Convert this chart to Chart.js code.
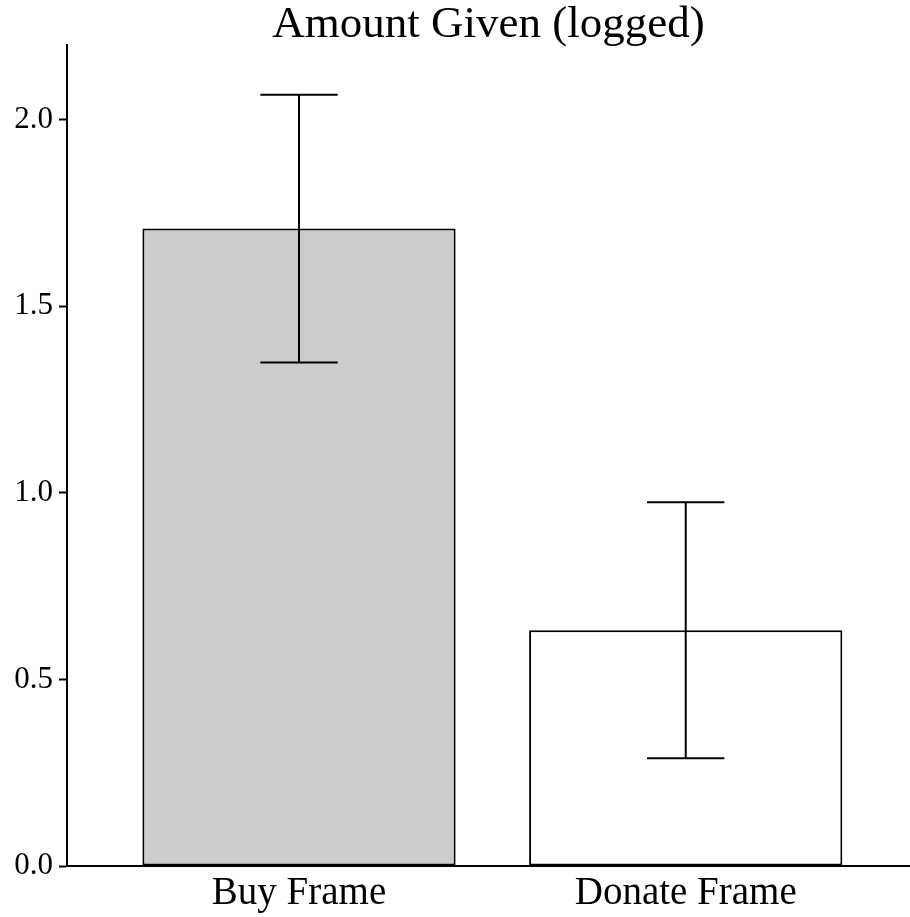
<!DOCTYPE html>
<html>
<head>
<meta charset="utf-8">
<script src="https://cdn.jsdelivr.net/npm/chart.js@4.4.1/dist/chart.umd.min.js"></script>
<style>
  html, body { margin: 0; padding: 0; background: #fff; }
  #wrap { width: 910px; height: 917px; }
</style>
</head>
<body>
<div id="wrap"><canvas id="myChart"></canvas></div>
<script>
// values
var categories = ['Buy Frame', 'Donate Frame'];
var means = [1.708, 0.632];
var errLow = [1.349, 0.289];
var errHigh = [2.067, 0.975];
var barColors = ['#cccccc', '#ffffff'];
var yTicks = [0, 0.5, 1.0, 1.5, 2.0];

var serif = '"Liberation Serif", "Times New Roman", serif';

var errorBars = {
    id: 'errorBars',
    afterDatasetsDraw: function(chart) {
        var ctx = chart.ctx;
        var xs = chart.scales.x, ys = chart.scales.y;
        ctx.save();
        ctx.strokeStyle = '#000';
        ctx.lineWidth = 2;
        for (var i = 0; i < means.length; i++) {
            var cx = xs.getPixelForValue(i + 1);
            var l = xs.getPixelForValue(i + 1 - 0.1);
            var r = xs.getPixelForValue(i + 1 + 0.1);
            var top = ys.getPixelForValue(errHigh[i]);
            var bot = ys.getPixelForValue(errLow[i]);
            ctx.beginPath();
            ctx.moveTo(cx, top); ctx.lineTo(cx, bot);
            ctx.moveTo(l, top); ctx.lineTo(r, top);
            ctx.moveTo(l, bot); ctx.lineTo(r, bot);
            ctx.stroke();
        }
        ctx.restore();
    }
};

var ctx = document.getElementById('myChart').getContext('2d');
var myChart = new Chart(ctx, {
    type: 'bar',
    data: {
        datasets: [{
            data: means.map(function(v, i) { return { x: i + 1, y: v }; }),
            backgroundColor: barColors,
            borderColor: '#000',
            borderWidth: 2,
            borderSkipped: false,
            categoryPercentage: 1,
            barPercentage: 0.81
        }]
    },
    options: {
        responsive: true,
        maintainAspectRatio: false,
        animation: false,
        layout: { padding: { left: 0, right: 0, top: 0, bottom: 0 } },
        plugins: {
            legend: { display: false },
            tooltip: { enabled: false },
            title: {
                display: true,
                text: 'Amount Given (logged)',
                fullSize: false,
                color: '#000',
                font: { family: serif, size: 45, weight: 'normal', lineHeight: 1.0 },
                padding: { top: 3, bottom: -3 }
            }
        },
        scales: {
            x: {
                type: 'linear',
                offset: false,
                min: 0.4,
                max: 2.58,
                grid: { display: false, drawTicks: false },
                border: { display: true, color: '#000', width: 2 },
                afterBuildTicks: function(axis) {
                    axis.ticks = categories.map(function(c, i) { return { value: i + 1 }; });
                },
                afterFit: function(axis) { axis.height = 51; },
                ticks: {
                    color: '#000',
                    padding: 4,
                    maxRotation: 0,
                    autoSkip: false,
                    font: { family: serif, size: 39 },
                    callback: function(value) { return categories[value - 1]; }
                }
            },
            y: {
                min: 0,
                max: 2.2,
                grid: { display: true, drawOnChartArea: false, drawTicks: true, tickLength: 8, tickWidth: 2, tickColor: '#000' },
                border: { display: true, color: '#000', width: 2 },
                afterBuildTicks: function(axis) {
                    axis.ticks = yTicks.map(function(v) { return { value: v }; });
                },
                afterFit: function(axis) { axis.width = 67; },
                ticks: {
                    color: '#000',
                    padding: 6,
                    font: { family: serif, size: 31 },
                    callback: function(value) { return value.toFixed(1); }
                }
            }
        }
    },
    plugins: [errorBars]
});
</script>
</body>
</html>
